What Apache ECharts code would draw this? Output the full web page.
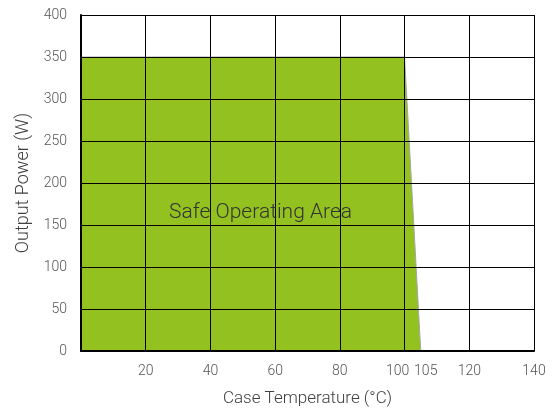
<!DOCTYPE html>
<html>
<head>
<meta charset="utf-8">
<script src="https://cdn.jsdelivr.net/npm/echarts@6/dist/echarts.min.js"></script>
<style>
  html, body { margin: 0; padding: 0; background: #fff; }
  #chart { width: 552px; height: 415px; }
</style>
</head>
<body>
<div id="chart"></div>
<script>
// Derating curve: full power up to 100 °C, then linear drop to zero at 105 °C
const caseTemp = [0, 100, 105];
const outputPower = [350, 350, 0];
const xTickLabels = [20, 40, 60, 80, 100, 105, 120, 140];
const areaLabel = 'Safe Operating Area';
const areaLabelAt = [55.5, 164];

const FONT = 'Roboto';
const GREEN = '#93c11f';
const TICK_FONT = { fontFamily: FONT, fontWeight: 300, fontSize: 14, color: '#555' };
const X_NAME_FONT = { fontFamily: FONT, fontWeight: 300, fontSize: 17, color: '#404040' };
const Y_NAME_FONT = { fontFamily: FONT, fontWeight: 300, fontSize: 18, color: '#404040' };

const chart = echarts.init(document.getElementById('chart'));

chart.setOption({
  backgroundColor: '#fff',
  animation: false,
  grid: { left: 81, top: 15, width: 453, height: 336, show: false },
  xAxis: {
    type: 'value',
    min: 0,
    max: 140,
    interval: 20,
    z: 5,
    name: 'Case Temperature (°C)',
    nameLocation: 'middle',
    nameGap: 39,
    nameTextStyle: X_NAME_FONT,
    axisLine: { show: true, lineStyle: { color: '#000', width: 2 } },
    axisTick: { show: false },
    splitLine: { show: true, lineStyle: { color: '#000', width: 1 } },
    axisLabel: Object.assign({
      customValues: xTickLabels,
      margin: 13,
      formatter: v => v === 100 ? '{l|100}' : v === 105 ? '{r|105}' : String(v),
      rich: {
        l: Object.assign({ padding: [0, 14, 0, 0] }, TICK_FONT),
        r: Object.assign({ padding: [0, 0, 0, 10] }, TICK_FONT)
      }
    }, TICK_FONT)
  },
  yAxis: {
    type: 'value',
    min: 0,
    max: 400,
    interval: 50,
    z: 5,
    name: 'Output Power (W)',
    nameLocation: 'middle',
    nameGap: 49,
    nameTextStyle: Y_NAME_FONT,
    axisLine: { show: true, lineStyle: { color: '#000', width: 2 } },
    axisTick: { show: false },
    splitLine: { show: true, lineStyle: { color: '#000', width: 1 } },
    axisLabel: Object.assign({ margin: 14 }, TICK_FONT)
  },
  series: [{
    type: 'line',
    z: 1,
    data: caseTemp.map((t, i) => [t, outputPower[i]]),
    symbol: 'none',
    lineStyle: { color: '#a6a6a6', width: 1 },
    areaStyle: { color: GREEN, opacity: 1 },
    markPoint: {
      symbol: 'circle',
      symbolSize: 0,
      silent: true,
      data: [{ coord: areaLabelAt }],
      label: {
        show: true,
        position: 'inside',
        formatter: areaLabel,
        fontFamily: FONT,
        fontWeight: 300,
        fontSize: 21,
        color: '#333'
      }
    }
  }]
});
</script>
</body>
</html>
